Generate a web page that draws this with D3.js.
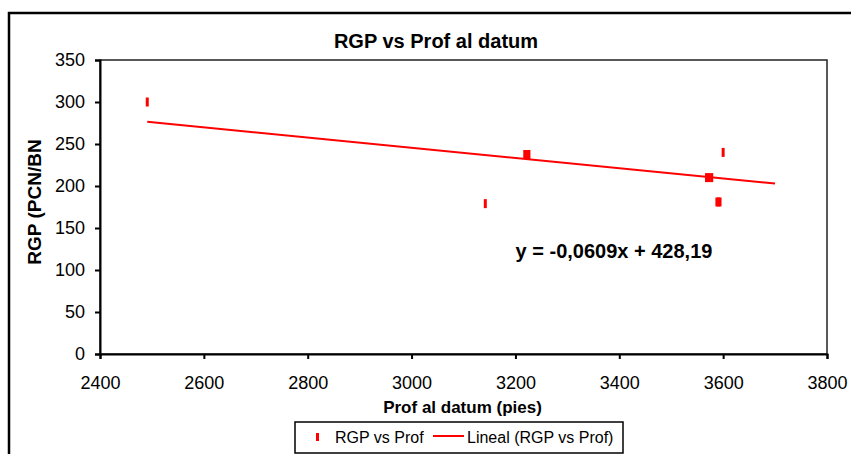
<!DOCTYPE html>
<html>
<head>
<meta charset="utf-8">
<script src="https://cdn.jsdelivr.net/npm/d3@7"></script>
<style>
  body { margin: 0; background: #fff; }
  svg { font-family: "Liberation Sans", Arial, sans-serif; }
</style>
</head>
<body>
<div id="chart"></div>
<script>
// depth (pies) and RGP (PCN/BN) values
const profValues = [2491, 3142, 3218, 3222, 3226, 3568, 3573, 3578, 3588, 3591, 3594, 3600];
const rgpValues = [300, 179, 237.5, 237.5, 237.5, 210, 210, 210, 181, 181, 181, 240];
// linear trendline end points (y = -0,0609x + 428,19)
const trendX = [2491, 3700];
const trendY = [276.5, 202.9];
const xTicks = [2400, 2600, 2800, 3000, 3200, 3400, 3600, 3800];
const yTicks = [0, 50, 100, 150, 200, 250, 300, 350];

const width = 851;
const height = 454;

const marginLeft = 100;
const marginRight = 24;
const marginTop = 60;
const marginBottom = 100;

const svg = d3.select("#chart")
    .append("svg")
    .attr("width", width)
    .attr("height", height);

// chart area border (runs off the right and bottom edge)
svg.append("rect")
    .attr("x", 9)
    .attr("y", 13)
    .attr("width", 900)
    .attr("height", 500)
    .attr("fill", "white")
    .attr("stroke", "black")
    .attr("stroke-width", 2.5);

const x = d3.scaleLinear()
    .domain([2400, 3800])
    .range([marginLeft, width - marginRight]);

const y = d3.scaleLinear()
    .domain([0, 350])
    .range([height - marginBottom, marginTop]);

// plot area frame
svg.append("rect")
    .attr("x", x(2400))
    .attr("y", y(350))
    .attr("width", x(3800) - x(2400))
    .attr("height", y(0) - y(350))
    .attr("fill", "none")
    .attr("stroke", "#222")
    .attr("stroke-width", 1.5);

// axes
svg.append("g")
    .attr("transform", `translate(0,${y(0)})`)
    .call(d3.axisBottom(x).tickValues(xTicks).tickFormat(d3.format("d")).tickSize(5).tickPadding(17))
    .call(g => g.select(".domain").attr("stroke-width", 2))
    .call(g => g.selectAll(".tick line").attr("stroke-width", 2))
    .selectAll(".tick text")
    .style("font-size", "18px")
    .style("font-family", "Liberation Sans, Arial, sans-serif")
    .attr("fill", "black");

svg.append("g")
    .attr("transform", `translate(${x(2400)},0)`)
    .call(d3.axisLeft(y).tickValues(yTicks).tickSize(5).tickPadding(10))
    .call(g => g.select(".domain").attr("stroke-width", 2))
    .call(g => g.selectAll(".tick line").attr("stroke-width", 2))
    .selectAll(".tick text")
    .style("font-size", "18px")
    .style("font-family", "Liberation Sans, Arial, sans-serif")
    .attr("fill", "black");

// trendline
const trend = trendX.map((v, i) => ({ x: v, y: trendY[i] }));
svg.append("path")
    .datum(trend)
    .attr("fill", "none")
    .attr("stroke", "#ff0000")
    .attr("stroke-width", 2)
    .attr("d", d3.line().x(d => x(d.x)).y(d => y(d.y)));

// dash markers
const data = profValues.map((v, i) => ({ prof: v, rgp: rgpValues[i] }));
svg.selectAll("rect.pt")
    .data(data)
    .enter()
    .append("rect")
    .attr("class", "pt")
    .attr("x", d => x(d.prof) - 1.5)
    .attr("y", d => y(d.rgp) - 4.5)
    .attr("width", 3)
    .attr("height", 9)
    .attr("fill", "#ff0000");

// title
svg.append("text")
    .attr("x", 436)
    .attr("y", 48)
    .attr("text-anchor", "middle")
    .style("font-size", "20px")
    .style("font-weight", "bold")
    .text("RGP vs Prof al datum");

// equation
svg.append("text")
    .attr("x", 614)
    .attr("y", 258)
    .attr("text-anchor", "middle")
    .style("font-size", "20px")
    .style("font-weight", "bold")
    .text("y = -0,0609x + 428,19");

// axis titles
svg.append("text")
    .attr("x", 462.5)
    .attr("y", 413)
    .attr("text-anchor", "middle")
    .style("font-size", "17px")
    .style("font-weight", "bold")
    .text("Prof al datum (pies)");

svg.append("text")
    .attr("transform", "translate(41,202) rotate(-90)")
    .attr("text-anchor", "middle")
    .style("font-size", "19px")
    .style("font-weight", "bold")
    .text("RGP (PCN/BN");

// legend
const legend = svg.append("g");
legend.append("rect")
    .attr("x", 295)
    .attr("y", 422)
    .attr("width", 328)
    .attr("height", 31)
    .attr("fill", "white")
    .attr("stroke", "black")
    .attr("stroke-width", 1.5);
legend.append("rect")
    .attr("x", 316)
    .attr("y", 433)
    .attr("width", 3)
    .attr("height", 8)
    .attr("fill", "#ff0000");
legend.append("text")
    .attr("x", 335)
    .attr("y", 443)
    .style("font-size", "16px")
    .text("RGP vs Prof");
legend.append("line")
    .attr("x1", 433)
    .attr("x2", 464)
    .attr("y1", 436)
    .attr("y2", 436)
    .attr("stroke", "#ff0000")
    .attr("stroke-width", 2);
legend.append("text")
    .attr("x", 467)
    .attr("y", 443)
    .style("font-size", "16px")
    .text("Lineal (RGP vs Prof)");
</script>
</body>
</html>
